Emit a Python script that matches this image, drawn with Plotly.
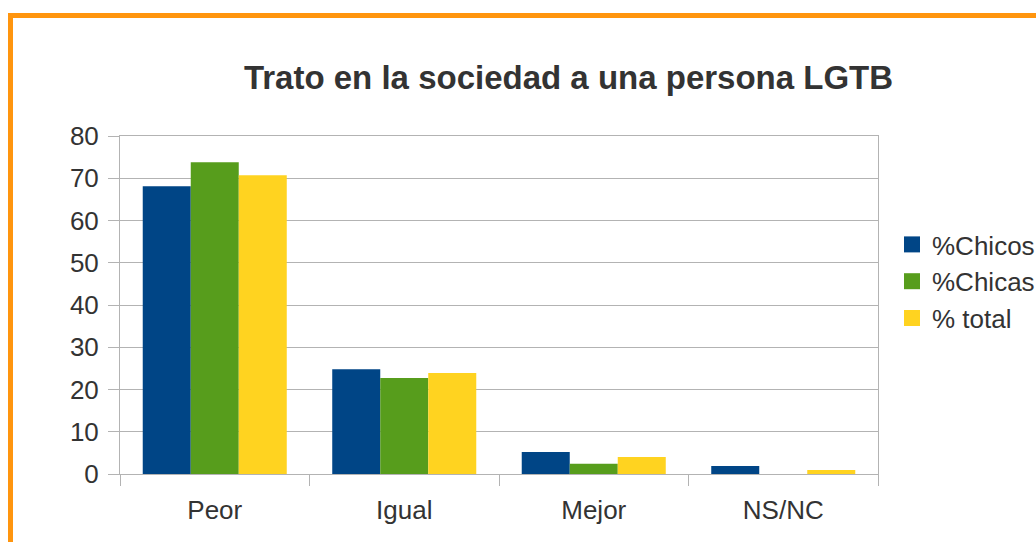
import plotly.graph_objects as go

categories = ["Peor", "Igual", "Mejor", "NS/NC"]
chicos = [68.1, 24.8, 5.2, 1.9]
chicas = [73.8, 22.7, 2.4, 0.0]
total = [70.7, 23.9, 4.0, 0.95]
series_names = ["%Chicos", "%Chicas", "% total"]
colors = ["#004586", "#579d1c", "#ffd320"]

W, H = 1036, 542
L, R, T, B = 120, 158, 136, 68

fig = go.Figure()
for i, (name, vals, col) in enumerate(zip(series_names, [chicos, chicas, total], colors)):
    fig.add_trace(go.Bar(x=categories, y=vals, name=name, showlegend=False,
                         legendgroup=f"g{i}", marker=dict(color=col, line=dict(width=0))))
    fig.add_trace(go.Scatter(x=[None], y=[None], mode="markers", name=name,
                             legendgroup=f"g{i}",
                             marker=dict(symbol="square", size=20, color=col)))

grid = "#b3b3b3"
txt = "#333333"
pw = W - L - R
ph = H - T - B
fig.update_layout(
    width=W, height=H,
    margin=dict(l=L, r=R, t=T, b=B),
    paper_bgcolor="white", plot_bgcolor="white",
    barmode="group", bargap=0.24, bargroupgap=0,
    font=dict(family="Liberation Sans, Arial, sans-serif", size=26, color=txt),
    title=dict(text="<b>Trato en la sociedad a una persona LGTB</b>",
               font=dict(size=33, color=txt),
               x=568.5 / W, xref="container", xanchor="center",
               y=1 - 77 / H, yref="container", yanchor="middle"),
    legend=dict(x=892 / W, xref="container", xanchor="left",
                y=1 - 221 / H, yref="container", yanchor="top",
                font=dict(size=26, color=txt), tracegroupgap=0,
                traceorder="grouped", itemwidth=30, bgcolor="rgba(0,0,0,0)"),
    xaxis=dict(showline=True, linecolor=grid, linewidth=1, mirror=True,
               ticks="outside", ticklen=11, tickcolor=grid, tickson="boundaries",
               showgrid=False, ticklabelstandoff=13, tickfont=dict(size=26, color=txt)),
    yaxis=dict(range=[0, 80], dtick=10, showline=True, linecolor=grid, linewidth=1, mirror=True,
               ticks="outside", ticklen=11, tickcolor=grid, showgrid=True, gridcolor=grid,
               gridwidth=1, zeroline=False, ticklabelstandoff=4,
               tickfont=dict(size=26, color=txt)),
    showlegend=True,
)

# orange frame (only top and left visible in the reference)
x0 = (10.5 - L) / pw
y1 = (H - B - 15.5) / ph
fig.add_shape(type="rect", xref="paper", yref="paper", x0=x0, x1=1.6, y0=-0.5, y1=y1,
              line=dict(color="#ff950e", width=5), layer="below")

fig.write_html("out.html",
               config={"displayModeBar": False},
               post_script="document.body.style.margin='0';document.body.style.overflow='hidden';")
